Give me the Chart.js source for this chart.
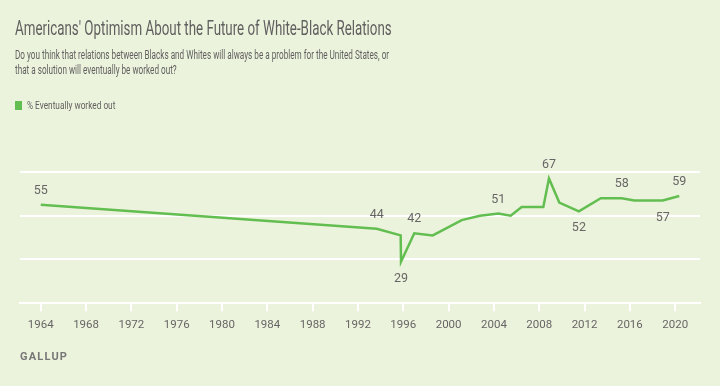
<!DOCTYPE html>
<html>
<head>
<meta charset="UTF-8">
<script src="https://cdn.jsdelivr.net/npm/chart.js"></script>
<style>
  body{
    margin:0;
    background:#ecf3dc;
  }
  .wrap{
    position:relative;
    width:720px;
    height:386px;
    overflow:hidden;
    font-family:"Roboto", sans-serif;
    color:#666;
  }
  /* the Gallup face is condensed, so squeeze Roboto horizontally */
  .narrow{
    position:absolute;
    left:15px;
    margin:0;
    white-space:nowrap;
    transform-origin:0 0;
  }
  h1{
    top:16px;
    font-weight:normal;
    font-size:20px;
    color:#5f5f5f;
    transform:scaleX(0.667);
  }
  .sub{
    top:48px;
    font-size:12px;
    line-height:15px;
    color:#5f5f5f;
    transform:scaleX(0.68);
  }
  .legend{
    top:98px;
    font-size:11.5px;
    color:#5f5f5f;
  }
  .legend span.box{
    display:inline-block;
    width:7px;
    height:9px;
    background:#63be51;
    margin-right:5px;
    vertical-align:-1px;
  }
  .legend span.txt{
    display:inline-block;
    transform:scaleX(0.72);
    transform-origin:0 0;
  }
  .src{
    position:absolute;
    left:20px;
    top:350px;
    font-size:11px;
    font-weight:bold;
    letter-spacing:1.2px;
    color:#777;
  }
  canvas{
    position:absolute;
    left:0;
    top:0;
  }
</style>
</head>
<body>
<div class="wrap">
  <canvas id="myChart" width="720" height="386"></canvas>
  <h1 class="narrow">Americans' Optimism About the Future of White-Black Relations</h1>
  <p class="sub narrow">Do you think that relations between Blacks and Whites will always be a problem for the United States, or<br>that a solution will eventually be worked out?</p>
  <div class="legend narrow"><span class="box"></span><span class="txt">% Eventually worked out</span></div>
  <div class="src">GALLUP</div>
</div>
<script>
// survey dates (as decimal years) and % saying a solution will eventually be worked out
var years = [1964, 1993.66, 1995.77, 1995.8, 1996.97, 1998.6, 2001.16, 2002.77, 2004.39, 2005.48,
             2006.45, 2008.36, 2008.86, 2009.77, 2011.5, 2013.43, 2015.28, 2016.39, 2018.9, 2020.36];
var worked_out = [55, 44, 41, 29, 42, 41, 48, 50, 51, 50,
                  54, 54, 67, 56, 52, 58, 58, 57, 57, 59];
// which points carry a value label, and where
var label_pos = ["above", "above", "", "below", "above", "", "", "", "above", "",
                 "", "", "above", "", "below", "", "above", "", "below", "above"];
var tick_years = [1964, 1968, 1972, 1976, 1980, 1984, 1988, 1992, 1996, 2000, 2004, 2008, 2012, 2016, 2020];

var points = [];
for (var i = 0; i < years.length; i++) {
  points.push({x: years[i], y: worked_out[i]});
}

var valueLabels = {
  id: 'valueLabels',
  afterDatasetsDraw: function(chart) {
    var ctx = chart.ctx;
    var meta = chart.getDatasetMeta(0);
    ctx.save();
    ctx.font = '12.5px Roboto, sans-serif';
    ctx.fillStyle = '#666';
    ctx.textAlign = 'center';
    ctx.textBaseline = 'middle';
    for (var i = 0; i < meta.data.length; i++) {
      if (!label_pos[i]) continue;
      var p = meta.data[i];
      var dy = label_pos[i] == 'above' ? -14 : 17;
      ctx.fillText(String(worked_out[i]), p.x, p.y + dy);
    }
    ctx.restore();
  }
};

new Chart(document.getElementById('myChart'), {
  type: 'line',
  data: {
    datasets: [{
      label: '% Eventually worked out',
      data: points,
      borderColor: '#63be51',
      borderWidth: 2.5,
      pointRadius: 0,
      tension: 0,
      fill: false
    }]
  },
  options: {
    responsive: false,
    animation: false,
    layout: {
      padding: {left: 20, right: 20, top: 172, bottom: 47}
    },
    plugins: {
      legend: {display: false},
      tooltip: {enabled: false}
    },
    scales: {
      x: {
        type: 'linear',
        min: 1962.17,
        max: 2022.19,
        afterBuildTicks: function(axis) {
          axis.ticks = tick_years.map(function(v) { return {value: v}; });
        },
        ticks: {
          color: '#666',
          font: {family: 'Roboto', size: 11.5},
          padding: 7,
          maxRotation: 0,
          autoSkip: false,
          callback: function(v) { return String(v); }
        },
        grid: {
          drawOnChartArea: false,
          drawTicks: true,
          tickLength: 8,
          color: '#ffffff',
          lineWidth: 2
        },
        border: {display: true, color: '#ffffff', width: 2}
      },
      y: {
        min: 10,
        max: 70,
        ticks: {display: false, stepSize: 20},
        grid: {color: '#ffffff', lineWidth: 2, drawTicks: false},
        border: {display: false}
      }
    }
  },
  plugins: [valueLabels]
});
</script>
</body>
</html>
